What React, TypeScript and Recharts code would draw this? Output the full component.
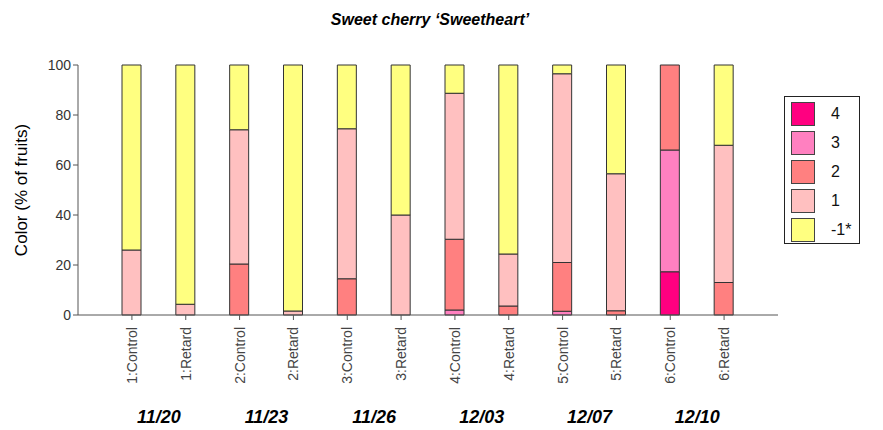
import React from "react";
import {
  BarChart,
  Bar,
  XAxis,
  YAxis,
} from "recharts";

const categories = [
  "1:Control", "1:Retard", "2:Control", "2:Retard", "3:Control", "3:Retard",
  "4:Control", "4:Retard", "5:Control", "5:Retard", "6:Control", "6:Retard",
];
const dates = ["11/20", "11/23", "11/26", "12/03", "12/07", "12/10"];

const level4 = [0, 0, 0, 0, 0, 0, 0, 0, 0, 0, 17.3, 0];
const level3 = [0, 0, 0, 0, 0, 0, 2, 0, 1.5, 0, 48.7, 0];
const level2 = [0, 0, 20.4, 0, 14.5, 0, 28.3, 3.6, 19.5, 1.7, 34, 13];
const level1 = [26, 4.3, 53.7, 1.6, 60, 40, 58.4, 20.8, 75.5, 54.8, 0, 54.9];
const levelNeg1 = [74, 95.7, 25.9, 98.4, 25.5, 60, 11.3, 75.6, 3.5, 43.5, 0, 32.1];

const yTicks = [0, 20, 40, 60, 80, 100];

const series = [
  { key: "l4", name: "4", color: "#ff0080" },
  { key: "l3", name: "3", color: "#ff80c0" },
  { key: "l2", name: "2", color: "#ff8080" },
  { key: "l1", name: "1", color: "#ffc0c0" },
  { key: "ln1", name: "-1*", color: "#ffff80" },
];

// each date groups a Control and a Retard bar
const data = categories.map((c, i) => ({
  name: c,
  date: dates[Math.floor(i / 2)],
  l4: level4[i],
  l3: level3[i],
  l2: level2[i],
  l1: level1[i],
  ln1: levelNeg1[i],
}));

const FONT = "'Liberation Sans', Arial, sans-serif";

function CategoryTick({ x, y, payload }: any) {
  return (
    <text
      x={x}
      y={y + 5}
      transform={`rotate(-90 ${x} ${y + 5})`}
      textAnchor="end"
      dominantBaseline="central"
      fontSize={14}
      fontFamily={FONT}
      fill="#444"
    >
      {payload.value}
    </text>
  );
}

function DateTick({ x, y, payload }: any) {
  return (
    <text
      x={x}
      y={y + 20}
      textAnchor="middle"
      fontSize={18}
      fontWeight="bold"
      fontStyle="italic"
      fontFamily={FONT}
      fill="#000"
    >
      {payload.value}
    </text>
  );
}

function LegendBox() {
  return (
    <div
      style={{
        position: "absolute",
        left: 784,
        top: 96,
        width: 76,
        height: 148,
        border: "1px solid #222",
        background: "#fff",
        boxSizing: "border-box",
        paddingTop: 2,
        fontFamily: FONT,
      }}
    >
      {series.map((s) => (
        <div
          key={s.key}
          style={{ display: "flex", alignItems: "center", height: 29, paddingLeft: 6 }}
        >
          <div
            style={{
              width: 22,
              height: 22,
              background: s.color,
              border: "1px solid #444",
            }}
          />
          <span style={{ marginLeft: 16, fontSize: 16, color: "#111" }}>{s.name}</span>
        </div>
      ))}
    </div>
  );
}

export default function App() {
  return (
    <div style={{ position: "absolute", left: 0, top: 0, width: 883, height: 430, background: "#fff" }}>
      <div
        style={{
          position: "absolute",
          left: 0,
          width: 860,
          top: 11,
          textAlign: "center",
          fontFamily: FONT,
          fontWeight: "bold",
          fontStyle: "italic",
          fontSize: 16,
        }}
      >
        Sweet cherry ‘Sweetheart’
      </div>
      <div
        style={{
          position: "absolute",
          left: 22,
          top: 190,
          transform: "translate(-50%, -50%) rotate(-90deg)",
          whiteSpace: "nowrap",
          fontFamily: FONT,
          fontSize: 17,
          color: "#000",
        }}
      >
        Color (% of fruits)
      </div>
      <BarChart
        width={883}
        height={430}
        data={data}
        margin={{ top: 65, right: 105, left: 28, bottom: 0 }}
        barSize={19}
      >
        <XAxis
          dataKey="name"
          interval={0}
          padding={{ left: 27, right: 27 }}
          height={80}
          stroke="#555"
          tickSize={5}
          tick={<CategoryTick />}
        />
        <XAxis
          xAxisId="date"
          dataKey="date"
          allowDuplicatedCategory={false}
          interval={0}
          padding={{ left: 27, right: 27 }}
          height={35}
          axisLine={false}
          tickLine={false}
          tick={<DateTick />}
        />
        <YAxis
          width={50}
          domain={[0, 100]}
          ticks={yTicks}
          stroke="#555"
          tickSize={5}
          tick={{ fontSize: 14, fill: "#333", fontFamily: FONT }}
        />
        {series.map((s) => (
          <Bar
            key={s.key}
            dataKey={s.key}
            name={s.name}
            stackId="a"
            fill={s.color}
            stroke="#333"
            strokeWidth={1}
            isAnimationActive={false}
          />
        ))}
      </BarChart>
      <LegendBox />
    </div>
  );
}
